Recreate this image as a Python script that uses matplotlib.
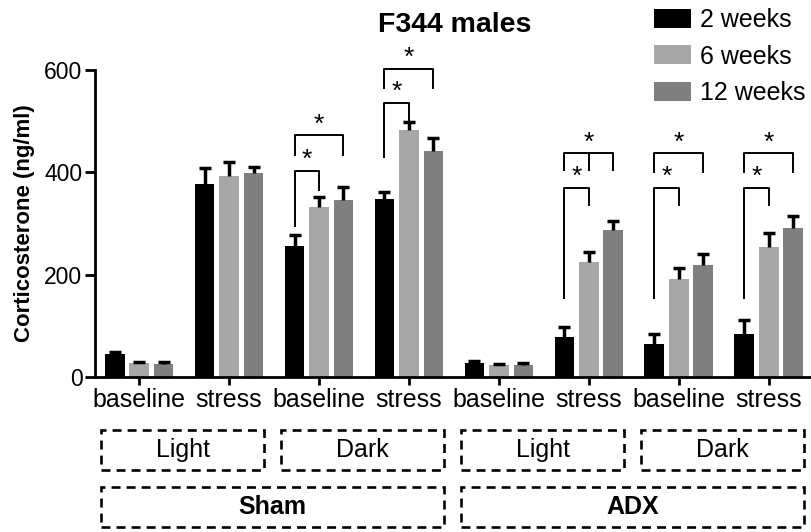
import matplotlib
matplotlib.use('Agg')
import matplotlib.pyplot as plt
import matplotlib.transforms as mtransforms
from matplotlib.patches import Rectangle
import numpy as np

plt.rcParams['font.family'] = ['Liberation Sans', 'DejaVu Sans']

# data
conditions = ['baseline', 'stress', 'baseline', 'stress',
              'baseline', 'stress', 'baseline', 'stress']
series = ['2 weeks', '6 weeks', '12 weeks']
mean_2w = [45, 378, 256, 347, 27, 78, 64, 84]
mean_6w = [27, 392, 332, 482, 23, 225, 191, 254]
mean_12w = [26, 398, 345, 441, 24, 287, 219, 291]
err_2w = [4, 30, 21, 14, 5, 20, 20, 27]
err_6w = [3, 28, 19, 16, 3, 19, 22, 27]
err_12w = [3, 12, 26, 27, 4, 18, 21, 23]
light_dark = ['Light', 'Dark', 'Light', 'Dark']
surgery = ['Sham', 'ADX']

# significance brackets: group, bar_a, bar_b, top, left leg end, right leg end, middle leg
brackets = [
    (2, 0, 1, 402, 296, 365, None),
    (2, 0, 2, 472, 433, 433, None),
    (3, 0, 1, 535, 429, 498, None),
    (3, 0, 2, 602, 564, 564, None),
    (5, 0, 1, 369, 154, 336, None),
    (5, 0, 2, 437, 404, 404, 404),
    (6, 0, 1, 369, 154, 336, None),
    (6, 0, 2, 437, 400, 400, None),
    (7, 0, 1, 369, 154, 336, None),
    (7, 0, 2, 437, 400, 400, None),
]

colors = ['#000000', '#a7a7a7', '#7f7f7f']
means = [mean_2w, mean_6w, mean_12w]
errs = [err_2w, err_6w, err_12w]

fig = plt.figure(figsize=(8.12, 5.32), dpi=100)
ax = fig.add_axes([95 / 812, 1 - 377 / 532, (812 - 95) / 812, 307 / 532])

x = np.arange(len(conditions))
offset = 0.272
width = 0.22
for i in range(3):
    xs = x + (i - 1) * offset
    ax.bar(xs, means[i], width, color=colors[i], label=series[i], zorder=2)
    eb = ax.errorbar(xs, means[i], yerr=[np.zeros(len(xs)), errs[i]], fmt='none',
                     ecolor='black', elinewidth=2.5, capsize=4, capthick=2.5, zorder=3)
    eb[1][0].set_visible(False)  # no cap at the bar top

for g, a, b, top, l_end, r_end, mid in brackets:
    xa = g + (a - 1) * offset
    xb = g + (b - 1) * offset
    ax.plot([xa, xa, xb, xb], [l_end, top, top, r_end], color='black', lw=1.4,
            clip_on=False, zorder=4)
    if mid is not None:
        ax.plot([g, g], [top, mid], color='black', lw=1.4, clip_on=False, zorder=4)
    ax.text((xa + xb) / 2, top - 2, '*', ha='center', va='bottom', fontsize=19,
            clip_on=False)

ax.set_xlim(-0.49, 7.48)
ax.set_ylim(0, 600)
ax.set_yticks([0, 200, 400, 600])
ax.set_xticks(x)
ax.set_xticklabels(conditions, fontsize=18)
for lab in ax.get_yticklabels():
    lab.set_fontsize(16.5)
ax.tick_params(axis='y', length=7, width=2, pad=2)
ax.tick_params(axis='x', length=6, width=2, pad=2)
for s in ['top', 'right']:
    ax.spines[s].set_visible(False)
for s in ['left', 'bottom']:
    ax.spines[s].set_linewidth(2)
ax.set_ylabel('Corticosterone (ng/ml)', fontsize=16, fontweight='bold', labelpad=7)

fig.text(455 / 812, 1 - 25 / 532, 'F344 males', ha='center', va='center',
         fontsize=20.5, fontweight='bold')

fig.legend(loc='upper left', bbox_to_anchor=(654 / 812, 1 - 8 / 532), frameon=False,
           fontsize=18, handlelength=1.5, handleheight=0.8, handletextpad=0.35,
           labelspacing=0.5, borderpad=0, borderaxespad=0)

# dashed group boxes under the axis
trans = mtransforms.blended_transform_factory(ax.transData, fig.transFigure)
box_style = dict(fill=False, lw=1.9, linestyle=(0, (3.4, 2.3)), edgecolor='black',
                 transform=trans, clip_on=False)
for k, name in enumerate(light_dark):
    x0 = 2 * k - 0.42
    fig.add_artist(Rectangle((x0, 0.117), 1.81, 0.075, **box_style))
    fig.text(x0 + 0.905, 0.1545, name, transform=trans, ha='center', va='center',
             fontsize=18)
for k, name in enumerate(surgery):
    x0 = 4 * k - 0.42
    fig.add_artist(Rectangle((x0, 0.01), 3.81, 0.075, **box_style))
    fig.text(x0 + 1.905, 0.0475, name, transform=trans, ha='center', va='center',
             fontsize=18, fontweight='bold')

fig.savefig('out.png', dpi=100)
